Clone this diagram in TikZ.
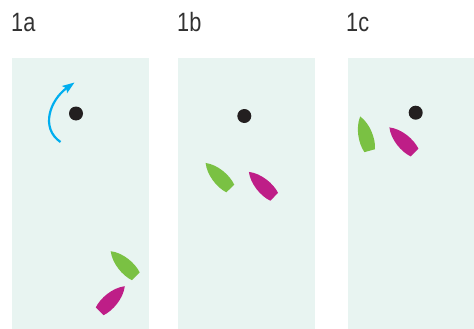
\documentclass[tikz,border=0pt]{standalone}
\usepackage{fontspec}
\setmainfont[FakeStretch=0.82]{Liberation Sans}
\usetikzlibrary{arrows.meta}
\definecolor{panelbg}{RGB}{232,244,241}
\definecolor{boatgreen}{RGB}{122,193,67}
\definecolor{boatmag}{RGB}{190,30,135}
\definecolor{arrowblue}{RGB}{0,174,239}
\definecolor{buoyblack}{RGB}{35,31,32}
\definecolor{labelgray}{RGB}{50,50,50}
\tikzset{
  panel/.style={fill=panelbg, draw=none},
  buoy/.style={fill=buoyblack},
  lbl/.style={anchor=base west, inner sep=0pt, text=labelgray, font=\fontsize{26.5}{26.5}\selectfont},
  boat/.pic={\fill[#1] (5.5,0) .. controls (9,-10) and (7.5,-26) .. (0,-35.5)
       .. controls (-7.5,-26) and (-9,-10) .. (-5.5,0) -- cycle;},
  turnarrow/.style={draw=arrowblue, line width=2.2pt, -{Stealth[length=12pt,width=8.5pt,inset=2pt]}}
}
\begin{document}
\begin{tikzpicture}[x=1pt,y=-1pt]
\useasboundingbox (0,0) rectangle (474,329);
% panels
\fill[panel] (12,58) rectangle (149,329);
\fill[panel] (178,58) rectangle (315,329);
\fill[panel] (348,58) rectangle (474,329);
% labels
\node[lbl] (la) at (11,32) {1a};
\node[lbl] (lb) at (177,32) {1b};
\node[lbl] (lc) at (346,32) {1c};
% buoys
\fill[buoy] (76,113.5) circle (7);
\fill[buoy] (244.3,116) circle (7);
\fill[buoy] (415.7,112.7) circle (7);
% arrow
\coordinate (as) at (60.5,142);
\coordinate (ae) at (74.5,82.5);
\draw[turnarrow] (as) .. controls (40,128) and (50,100) .. (ae);
% boats panel 1
\pic[rotate=45] at (135.8,276.3) {boat=boatgreen};
\pic[rotate=-45] at (99.7,311.3) {boat=boatmag};
% boats panel 2
\pic[rotate=44] at (230.3,188.5) {boat=boatgreen};
\pic[rotate=45.5] at (274.2,196.8) {boat=boatmag};
% boats panel 3
\pic[rotate=15.5] at (369.7,150.7) {boat=boatgreen};
\pic[rotate=45] at (414.5,152.5) {boat=boatmag};
\end{tikzpicture}
\end{document}
